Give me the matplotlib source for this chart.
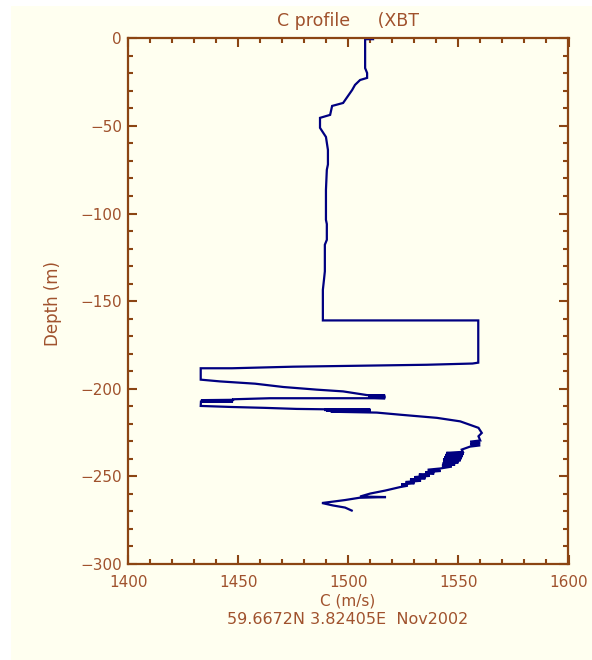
import matplotlib
matplotlib.use("Agg")
import matplotlib.pyplot as plt
from matplotlib.patches import Rectangle
from matplotlib.ticker import MultipleLocator

# Sound speed profile (C in m/s, depth in m)
sound_speed = [
    1511.2, 1507.6, 1507.6, 1508.5, 1508.5, 1505.3, 1503.0, 1501.7, 1497.6, 1492.6,
    1491.7, 1487.1, 1487.1, 1489.8, 1490.7, 1490.7, 1490.2, 1489.8, 1489.8, 1490.2,
    1490.2, 1489.3, 1489.3, 1488.9, 1488.4, 1488.4,
    1559.0, 1559.0, 1556.4, 1535.6, 1474.9, 1447.1, 1432.9, 1432.9,
    1441.7, 1457.6, 1470.5, 1485.6, 1497.6, 1508.4,
    1516.7, 1509.0, 1516.7, 1509.0, 1516.7, 1509.0, 1516.7,
    1464.4, 1447.6,
    1447.6, 1433.0, 1447.6, 1433.0, 1447.6, 1433.0, 1432.9,
    1447.0, 1462.1, 1476.5, 1488.6,
    1510.0, 1489.0, 1510.0, 1490.0, 1510.0, 1492.0, 1512.9,
    1523.5, 1540.2, 1550.8, 1559.1, 1560.6, 1559.1,
    1559.9, 1555.3, 1559.9, 1555.3, 1559.9, 1555.3, 1551.5,
    1552.0, 1544.5, 1552.3, 1544.0, 1552.0, 1543.5, 1551.5, 1543.0, 1551.0, 1543.0,
    1550.0, 1542.8, 1548.5, 1542.5, 1547.0,
    1541.7, 1536.0, 1542.0, 1535.0, 1539.0, 1532.0, 1537.0, 1530.0, 1535.0, 1528.0,
    1533.0, 1526.0, 1530.0, 1524.0, 1527.0, 1523.5,
    1516.7, 1509.9, 1505.3, 1517.1, 1505.0, 1498.5, 1493.0, 1488.0, 1493.0,
    1498.5, 1501.5,
]
depth = [
    -0.5, -0.5, -17.0, -19.8, -22.6, -23.8, -26.6, -29.5, -36.9, -38.6,
    -43.7, -45.4, -51.1, -56.3, -63.7, -72.0, -75.0, -86.5, -103.6, -106.0,
    -115.0, -117.8, -133.0, -137.8, -143.5, -161.0,
    -161.0, -185.1, -185.6, -186.3, -187.4, -188.3, -188.3, -194.8,
    -195.8, -197.1, -199.0, -200.5, -201.5, -203.6,
    -203.9, -204.1, -204.4, -204.6, -204.9, -205.1, -205.4,
    -205.4, -206.0,
    -206.3, -206.5, -206.8, -207.0, -207.2, -207.4, -209.8,
    -210.4, -210.9, -211.5, -211.7,
    -211.9, -212.1, -212.4, -212.6, -212.9, -213.1, -213.6,
    -214.8, -216.6, -218.6, -222.3, -225.2, -227.1,
    -229.5, -230.2, -230.9, -231.6, -232.3, -233.0, -234.7,
    -236.0, -236.6, -237.2, -237.8, -238.4, -239.0, -239.6, -240.2, -240.8, -241.4,
    -242.0, -242.6, -243.2, -243.8, -244.4,
    -245.5, -246.2, -246.9, -247.6, -248.3, -249.0, -249.7, -250.4, -251.1, -251.8,
    -252.5, -253.2, -253.9, -254.6, -255.3, -256.1,
    -258.1, -259.8, -261.5, -261.8, -262.2, -263.5, -264.4, -265.2, -266.6,
    -267.8, -269.5,
]

title = "C profile     (XBT"
xlabel = "C (m/s)"
ylabel = "Depth (m)"
subtitle = "59.6672N 3.82405E  Nov2002"

axis_color = "#8B4513"
text_color = "#A0522D"
line_color = "#000080"
bg_color = "#FFFFF0"

plt.rcParams["font.family"] = "DejaVu Sans"
plt.rcParams["font.size"] = 11

fig = plt.figure(figsize=(5.92, 6.60), dpi=100, facecolor="white")
# cream panel, leaving a thin white strip on left and top
fig.patches.append(Rectangle((11 / 592, 0), 1, 1 - 6 / 660, transform=fig.transFigure,
                             facecolor=bg_color, edgecolor="none", zorder=-10))

ax = fig.add_axes([128.3 / 592, 1 - 564 / 660, 440.2 / 592, 525.7 / 660])
ax.set_facecolor(bg_color)
ax.plot(sound_speed, depth, color=line_color, lw=1.6, solid_joinstyle="miter")

ax.set_xlim(1400, 1600)
ax.set_ylim(-300, 0)
ax.xaxis.set_major_locator(MultipleLocator(50))
ax.xaxis.set_minor_locator(MultipleLocator(10))
ax.yaxis.set_major_locator(MultipleLocator(50))
ax.yaxis.set_minor_locator(MultipleLocator(10))

for s in ax.spines.values():
    s.set_color(axis_color)
    s.set_linewidth(1.6)
ax.tick_params(which="both", direction="in", top=True, right=True,
               color=axis_color, labelcolor=text_color, width=1.5)
ax.tick_params(which="major", length=6.5)
ax.tick_params(which="minor", length=3.5)
ax.tick_params(axis="x", pad=8)
ax.tick_params(axis="y", pad=4.5)

fig.text(348.4 / 592, 1 - 21.5 / 660, title, color=text_color, ha="center", va="center",
         fontsize=12.5)
fig.text(347.5 / 592, 1 - 606 / 660, xlabel, color=text_color, ha="center", va="baseline",
         fontsize=11)
fig.text(347.5 / 592, 1 - 623.5 / 660, subtitle, color=text_color, ha="center",
         va="baseline", fontsize=11.5)
fig.text(53 / 592, 1 - 303 / 660, ylabel, color=text_color, ha="center", va="center",
         rotation=90, fontsize=12)

fig.savefig("out.png", dpi=100, facecolor=fig.get_facecolor())
